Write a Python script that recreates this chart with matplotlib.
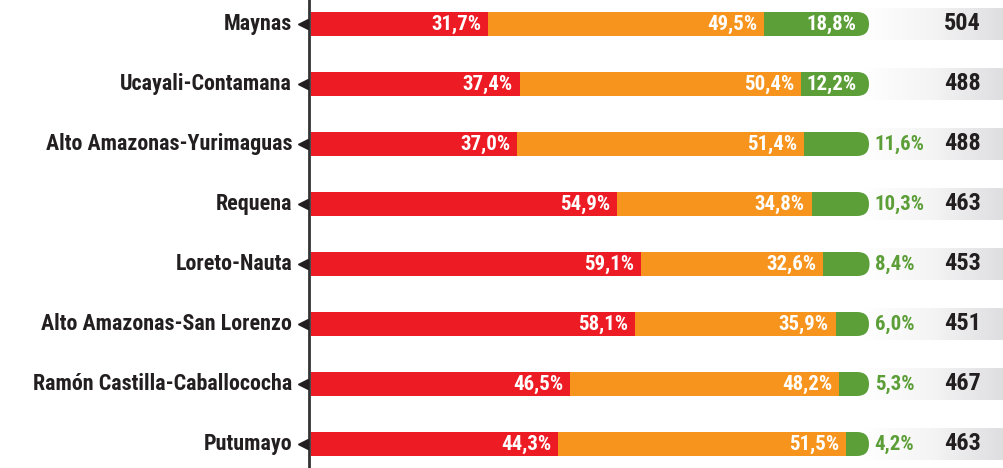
import numpy as np
import matplotlib
matplotlib.use("Agg")
import matplotlib.pyplot as plt
from matplotlib.patches import FancyBboxPatch
from matplotlib.colors import LinearSegmentedColormap

plt.rcParams["font.family"] = ["Roboto Condensed", "Archivo Narrow", "DejaVu Sans"]

categories = ["Maynas", "Ucayali-Contamana", "Alto Amazonas-Yurimaguas", "Requena",
              "Loreto-Nauta", "Alto Amazonas-San Lorenzo",
              "Ramón Castilla-Caballococha", "Putumayo"]
red_vals = [31.7, 37.4, 37.0, 54.9, 59.1, 58.1, 46.5, 44.3]
orange_vals = [49.5, 50.4, 51.4, 34.8, 32.6, 35.9, 48.2, 51.5]
green_vals = [18.8, 12.2, 11.6, 10.3, 8.4, 6.0, 5.3, 4.2]
totals = [504, 488, 488, 463, 453, 451, 467, 463]

RED = "#ed1c24"
ORANGE = "#f7941d"
GREEN = "#5c9e37"
DARK = "#231f20"

W, H = 1004, 468
fig = plt.figure(figsize=(W / 100, H / 100), dpi=100, facecolor="white")
ax = fig.add_axes([0, 0, 1, 1])

# pixel geometry: 0% at x=311px, 100% at 869px; rows 60px apart from y=24px
px_per_pct = 5.58
x0 = 311
ax.set_xlim(-x0 / px_per_pct, (W - x0) / px_per_pct)
ax.set_ylim((H - 24) / 60, -24 / 60)
ax.axis("off")

bar_h = 24 / 60
y = np.arange(len(categories))

# grey gradient band behind totals
grad = LinearSegmentedColormap.from_list("g", ["#ffffff", "#f4f4f5", "#dedee0"])
band = np.linspace(0, 1, 256).reshape(1, -1)
for i in y:
    ax.imshow(band, cmap=grad, aspect="auto", interpolation="bilinear",
              extent=[99, (W - x0) / px_per_pct, i + 16 / 60, i - 16 / 60], zorder=0)

# green segment drawn as full rounded bar, then red/orange on top
r = 12 / px_per_pct
for i in y:
    start = red_vals[i] + orange_vals[i] - 5
    end = red_vals[i] + orange_vals[i] + green_vals[i]
    p = FancyBboxPatch((start, i - bar_h / 2), end - start, bar_h,
                       boxstyle=f"round,pad=0,rounding_size={r}",
                       mutation_aspect=px_per_pct / 60,
                       fc=GREEN, ec="none", zorder=2)
    ax.add_patch(p)

ax.barh(y, red_vals, height=bar_h, color=RED, zorder=3)
ax.barh(y, orange_vals, left=red_vals, height=bar_h, color=ORANGE, zorder=3)

ax.axvline(-0.35, color="#333333", lw=2, zorder=4)
ax.plot([-1.4] * len(y), y, marker="<", ms=7, color=DARK, ls="none", zorder=4)

for i in y:
    ax.text(-3.4, i, categories[i], ha="right", va="center", fontsize=15.8,
            fontweight="bold", color=DARK)
    ax.text(red_vals[i] - 1.2, i, f"{red_vals[i]:.1f}%".replace(".", ","),
            ha="right", va="center", fontsize=15, fontweight="bold",
            color="white", zorder=5)
    oend = red_vals[i] + orange_vals[i]
    ax.text(oend - 1.2, i, f"{orange_vals[i]:.1f}%".replace(".", ","),
            ha="right", va="center", fontsize=15, fontweight="bold",
            color="white", zorder=5)
    gend = oend + green_vals[i]
    glab = f"{green_vals[i]:.1f}%".replace(".", ",")
    if green_vals[i] >= 12:
        ax.text(gend - 2.2, i, glab, ha="right", va="center", fontsize=15,
                fontweight="bold", color="white", zorder=5)
    else:
        ax.text(101.0, i, glab, ha="left", va="center", fontsize=15,
                fontweight="bold", color=GREEN, zorder=5)
    ax.text(116.7, i, str(totals[i]), ha="center", va="center", fontsize=17.5,
            fontweight="bold", color=DARK, zorder=5)

fig.savefig("out.png", dpi=100, facecolor="white")
